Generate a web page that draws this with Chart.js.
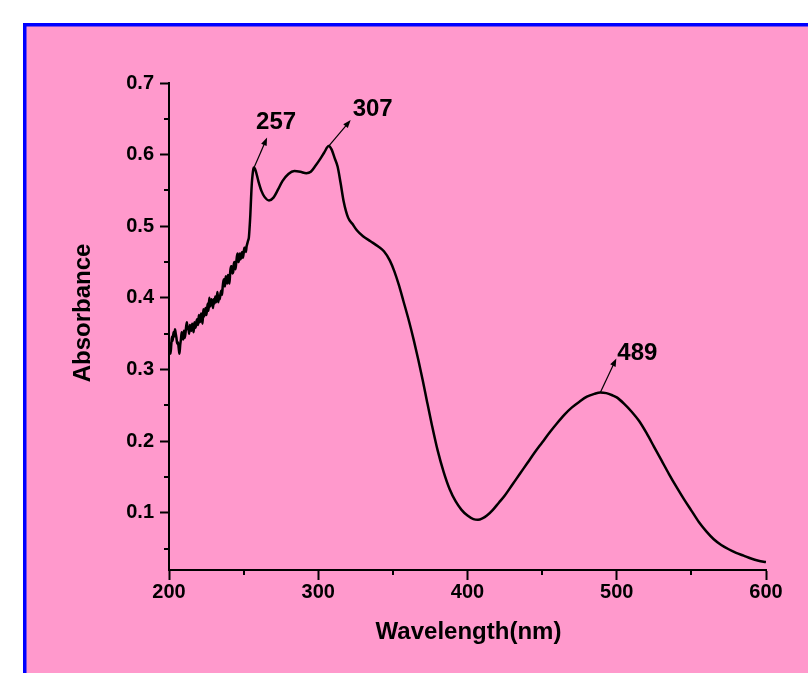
<!DOCTYPE html>
<html>
<head>
<meta charset="utf-8">
<title>UV-Vis absorbance spectrum</title>
<script src="https://cdn.jsdelivr.net/npm/chart.js@4.4.1/dist/chart.umd.min.js"></script>
<style>
  html, body { margin: 0; padding: 0; background: #fff; }
  #spectrum { display: block; }
</style>
</head>
<body>
<canvas id="spectrum" width="808" height="673"></canvas>
<script>
// spectrum: wavelength (nm) and absorbance; the UV end is sampled finer, it is noisy
const wavelength = [
  200, 200.5, 201, 201.5, 202, 202.5, 203, 203.5, 204, 204.5,
  205, 205.5, 206, 206.5, 207, 207.5, 208, 208.5, 209, 209.5,
  210, 210.5, 211, 211.5, 212, 212.5, 213, 213.5, 214, 214.5,
  215, 215.5, 216, 216.5, 217, 217.5, 218, 218.5, 219, 219.5,
  220, 220.5, 221, 221.5, 222, 222.5, 223, 223.5, 224, 224.5,
  225, 225.5, 226, 226.5, 227, 227.5, 228, 228.5, 229, 229.5,
  230, 230.5, 231, 231.5, 232, 232.5, 233, 233.5, 234, 234.5,
  235, 235.5, 236, 236.5, 237, 237.5, 238, 238.5, 239, 239.5,
  240, 240.5, 241, 241.5, 242, 242.5, 243, 243.5, 244, 244.5,
  245, 245.5, 246, 246.5, 247, 247.5, 248, 248.5, 249, 249.5,
  250, 250.5, 251, 251.5, 252, 252.5, 253, 253.5, 254, 254.5,
  255, 255.5, 256, 256.5, 257,
  258, 260, 262, 264, 267, 270, 273, 276, 280, 284, 288, 292, 295, 298, 301, 304, 307,
  309, 311, 313, 315, 317, 320, 323, 326, 330, 335, 340, 344, 348, 351, 354, 357,
  361, 364, 367, 370, 373, 376, 380, 384, 388, 392, 396, 400, 404, 407, 410, 413,
  417, 421, 425, 430, 435, 440, 445, 450, 455, 460, 465, 470, 475, 480, 485, 489,
  493, 497, 500, 505, 510, 515, 520, 525, 530, 535, 540, 545, 550, 555, 560, 565,
  570, 575, 580, 585, 590, 595, 600
];
const absorbance = [
  0.338, 0.330, 0.322, 0.334, 0.346, 0.340, 0.352, 0.346, 0.356, 0.350,
  0.344, 0.336, 0.338, 0.330, 0.322, 0.334, 0.342, 0.352, 0.348, 0.342,
  0.354, 0.344, 0.350, 0.360, 0.366, 0.356, 0.358, 0.350, 0.362, 0.356,
  0.354, 0.364, 0.360, 0.352, 0.366, 0.358, 0.360, 0.368, 0.370, 0.362,
  0.376, 0.366, 0.368, 0.378, 0.372, 0.364, 0.384, 0.374, 0.380, 0.386,
  0.376, 0.384, 0.392, 0.382, 0.400, 0.388, 0.392, 0.398, 0.394, 0.386,
  0.398, 0.392, 0.402, 0.394, 0.400, 0.408, 0.394, 0.402, 0.398, 0.406,
  0.410, 0.404, 0.416, 0.424, 0.426, 0.416, 0.430, 0.424, 0.420, 0.432,
  0.428, 0.420, 0.436, 0.444, 0.444, 0.434, 0.436, 0.448, 0.450, 0.440,
  0.448, 0.458, 0.462, 0.450, 0.454, 0.462, 0.454, 0.460, 0.464, 0.456,
  0.462, 0.470, 0.470, 0.464, 0.472, 0.476, 0.480, 0.484, 0.498, 0.516,
  0.540, 0.560, 0.572, 0.580, 0.582,
  0.578, 0.562, 0.549, 0.541, 0.536, 0.540, 0.551, 0.563, 0.573, 0.577, 0.576, 0.574, 0.576, 0.584, 0.593, 0.603, 0.612,
  0.607, 0.595, 0.583, 0.560, 0.535, 0.512, 0.503, 0.494, 0.486, 0.479, 0.472, 0.465, 0.452, 0.437, 0.418, 0.396,
  0.366, 0.341, 0.314, 0.285, 0.254, 0.224, 0.187, 0.157, 0.133, 0.116, 0.104, 0.096, 0.091, 0.090, 0.092, 0.096,
  0.104, 0.114, 0.124, 0.139, 0.154, 0.169, 0.184, 0.198, 0.212, 0.225, 0.237, 0.247, 0.255, 0.262, 0.266, 0.268,
  0.267, 0.264, 0.261, 0.252, 0.241, 0.228, 0.211, 0.192, 0.173, 0.154, 0.136, 0.119, 0.103, 0.087, 0.074, 0.063,
  0.055, 0.049, 0.044, 0.040, 0.036, 0.033, 0.031
];

// labelled band maxima (nm)
const peaks = [257, 307, 489];

const xTicks = [200, 300, 400, 500, 600];
const xMinorTicks = [250, 350, 450, 550];
const yTicks = [0.1, 0.2, 0.3, 0.4, 0.5, 0.6, 0.7];
const yMinorTicks = [0.05, 0.15, 0.25, 0.35, 0.45, 0.55, 0.65];

const xTitle = 'Wavelength(nm)';
const yTitle = 'Absorbance';

// where each peak label sits relative to its point: [arrow tip dx, dy, text dx, dy]
const peakLabelOffset = [
  [13, -30, 22, -45],
  [22, -26, 44, -37],
  [16, -34, 37, -39]
];

const FONT = '"Liberation Sans", Arial, Helvetica, sans-serif';
Chart.defaults.font.family = FONT;
Chart.defaults.font.weight = 'bold';
Chart.defaults.color = '#000';

// white page with a pink panel and blue frame behind the plot
const backdrop = {
  id: 'backdrop',
  beforeDraw(chart) {
    const ctx = chart.ctx;
    ctx.save();
    ctx.fillStyle = '#ffffff';
    ctx.fillRect(0, 0, chart.width, chart.height);
    ctx.fillStyle = '#0000ff';
    ctx.fillRect(23, 23, chart.width, chart.height);
    ctx.fillStyle = '#ff99cc';
    ctx.fillRect(26.5, 26.5, chart.width, chart.height);
    ctx.restore();
  }
};

function drawArrow(ctx, x0, y0, x1, y1) {
  const a = Math.atan2(y1 - y0, x1 - x0);
  const len = 8, half = 3;
  const c = Math.cos(a), s = Math.sin(a);
  ctx.beginPath();
  ctx.moveTo(x0, y0);
  ctx.lineTo(x1 - len * c * 0.7, y1 - len * s * 0.7);
  ctx.stroke();
  ctx.beginPath();
  ctx.moveTo(x1, y1);
  ctx.lineTo(x1 - len * c + half * s, y1 - len * s - half * c);
  ctx.lineTo(x1 - len * c - half * s, y1 - len * s + half * c);
  ctx.closePath();
  ctx.fill();
}

// minor ticks, axis titles and peak arrows
const decorations = {
  id: 'decorations',
  afterDraw(chart) {
    const ctx = chart.ctx;
    const xs = chart.scales.x, ys = chart.scales.y;
    const area = chart.chartArea;
    ctx.save();
    ctx.strokeStyle = '#000';
    ctx.fillStyle = '#000';
    ctx.lineWidth = 2;
    ctx.beginPath();
    xMinorTicks.forEach(v => {
      const px = Math.round(xs.getPixelForValue(v));
      ctx.moveTo(px, area.bottom);
      ctx.lineTo(px, area.bottom + 5);
    });
    yMinorTicks.forEach(v => {
      const py = Math.round(ys.getPixelForValue(v));
      ctx.moveTo(area.left, py);
      ctx.lineTo(area.left - 5, py);
    });
    ctx.stroke();

    ctx.font = 'bold 24px ' + FONT;
    ctx.textAlign = 'center';
    ctx.textBaseline = 'middle';
    ctx.fillText(xTitle, (area.left + area.right) / 2 + 1, 632);
    ctx.save();
    ctx.translate(83, 313);
    ctx.rotate(-Math.PI / 2);
    ctx.fillText(yTitle, 0, 0);
    ctx.restore();

    ctx.lineWidth = 1.2;
    peaks.forEach((nm, i) => {
      const k = wavelength.indexOf(nm);
      const px = xs.getPixelForValue(nm);
      const py = ys.getPixelForValue(absorbance[k]);
      const [tdx, tdy, ldx, ldy] = peakLabelOffset[i];
      drawArrow(ctx, px, py, px + tdx, py + tdy);
      ctx.fillText(String(nm), px + ldx, py + ldy);
    });
    ctx.restore();
  }
};

const axisGrid = (len) => ({
  display: true,
  drawOnChartArea: false,
  drawTicks: true,
  tickLength: len,
  tickWidth: 2,
  tickColor: '#000'
});

new Chart(document.getElementById('spectrum'), {
  type: 'line',
  data: {
    datasets: [{
      data: wavelength.map((w, i) => ({ x: w, y: absorbance[i] })),
      borderColor: '#000',
      borderWidth: 2.5,
      pointRadius: 0,
      fill: false,
      cubicInterpolationMode: 'monotone'
    }]
  },
  options: {
    responsive: false,
    animation: false,
    events: [],
    layout: { padding: { left: 0, top: 83, right: 42, bottom: 0 } },
    plugins: {
      legend: { display: false },
      tooltip: { enabled: false }
    },
    scales: {
      x: {
        type: 'linear',
        min: 200,
        max: 600,
        afterBuildTicks: s => { s.ticks = xTicks.map(v => ({ value: v })); },
        afterFit: s => { s.height = 103; },
        grid: axisGrid(10),
        border: { display: true, color: '#000', width: 2 },
        ticks: {
          padding: 0,
          maxRotation: 0,
          font: { size: 20, weight: 'bold' },
          callback: v => String(v)
        }
      },
      y: {
        min: 0.02,
        max: 0.7,
        afterBuildTicks: s => { s.ticks = yTicks.map(v => ({ value: v })); },
        afterFit: s => { s.width = 169; },
        grid: axisGrid(9),
        border: { display: true, color: '#000', width: 2 },
        ticks: {
          padding: 6,
          font: { size: 20, weight: 'bold' },
          callback: v => v.toFixed(1)
        }
      }
    }
  },
  plugins: [backdrop, decorations]
});
</script>
</body>
</html>
